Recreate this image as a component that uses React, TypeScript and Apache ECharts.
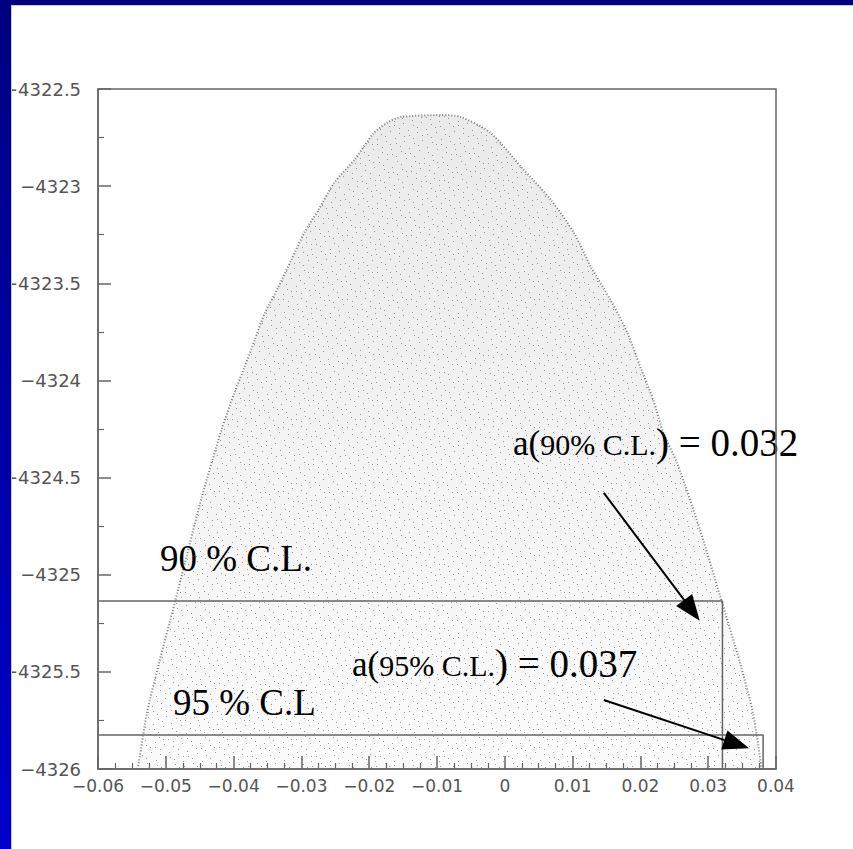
import React, { useEffect, useRef } from "react";
import * as echarts from "echarts";

// ---- data ----
const X_MIN = -0.06;
const X_MAX = 0.04;
const Y_MIN = -4326;
const Y_MAX = -4322.5;

// upper envelope of the scatter cloud (a, lnL)
const envelopeX = [
  -0.0542, -0.054, -0.0528, -0.051, -0.0487, -0.0472, -0.0447, -0.0418, -0.0399, -0.0384,
  -0.0369, -0.0354, -0.0334, -0.0315, -0.0296, -0.0275, -0.0252, -0.0222, -0.0193, -0.0172,
  -0.0153, -0.0094, -0.0065, -0.0021, 0.0024, 0.0068, 0.0102, 0.0127, 0.0156, 0.0181,
  0.02, 0.0219, 0.0234, 0.0254, 0.0288, 0.0318, 0.0347, 0.0366, 0.0379,
];
const envelopeY = [
  -4326, -4325.969, -4325.712, -4325.454, -4325.146, -4324.94, -4324.6, -4324.255, -4324.065, -4323.931,
  -4323.792, -4323.653, -4323.519, -4323.38, -4323.241, -4323.123, -4322.984, -4322.865, -4322.726, -4322.67,
  -4322.644, -4322.634, -4322.644, -4322.726, -4322.901, -4323.071, -4323.241, -4323.416, -4323.586, -4323.756,
  -4323.931, -4324.101, -4324.271, -4324.425, -4324.77, -4325.115, -4325.454, -4325.712, -4326,
];

// confidence-level boxes
const clNames = ["90 % C.L.", "95 % C.L"];
const clPct = ["90", "95"];
const clResult = ["0.032", "0.037"];
const clA = [0.0321, 0.0381];
const clLnL = [-4325.135, -4325.825];

// arrows (from -> to, data coords)
const arrowFrom = [
  [0.0146, -4324.579],
  [0.0146, -4325.645],
];
const arrowTo = [
  [0.0276, -4325.184],
  [0.0342, -4325.872],
];

const SERIF = '"Liberation Serif", "Times New Roman", serif';
const SANS = '"DejaVu Sans", sans-serif';

function makeDots(): HTMLCanvasElement {
  const c = document.createElement("canvas");
  c.width = 64;
  c.height = 64;
  const ctx = c.getContext("2d")!;
  ctx.fillStyle = "rgba(60,60,60,0.5)";
  for (let i = 0; i < 100; i++) {
    const px = Math.floor(((i * 0.7548776662 + 0.13) % 1) * 64);
    const py = Math.floor(((i * 0.569840291 + 0.41) % 1) * 64);
    ctx.fillRect(px, py, 1, 1);
  }
  return c;
}

const fmtX = (v: number) => {
  if (Math.abs(v) < 1e-9) return "0";
  return (v < 0 ? "\u2212" : "") + Math.abs(v).toFixed(2);
};
const fmtY = (v: number) => {
  const r = Math.round(Math.abs(v) * 10) / 10;
  return (v < 0 ? "\u2212" : "") + String(r);
};

const richStyles = {
  a: { fontFamily: SERIF, fontSize: 35, lineHeight: 40, fill: "#000", verticalAlign: "bottom", padding: [0, 0, 1, 0] },
  b: { fontFamily: SERIF, fontSize: 30, lineHeight: 40, fill: "#000", verticalAlign: "bottom", padding: [0, 0, 3, 0] },
  c: { fontFamily: SERIF, fontSize: 39, lineHeight: 40, fill: "#000", verticalAlign: "bottom" },
};

export default function App() {
  const ref = useRef<HTMLDivElement>(null);
  useEffect(() => {
    const chart = echarts.init(ref.current!, null, { renderer: "svg" });
    const dots = makeDots();
    const envelope = envelopeX.map((x, i) => [x, envelopeY[i]]);

    const boxSeries = clA.map((a, i) => ({
      type: "line",
      name: clNames[i],
      data: [
        [X_MIN, clLnL[i]],
        [a, clLnL[i]],
        [a, Y_MIN],
      ],
      symbol: "none",
      silent: true,
      z: 4,
      lineStyle: { color: "#666", width: 1.5 },
    }));

    const axisCommon = {
      axisLine: { show: true, onZero: false, lineStyle: { color: "#666", width: 1.5 } },
      axisTick: { show: true, inside: true, length: 13, lineStyle: { color: "#666", width: 1.5 } },
      minorTick: { show: true, length: 6, lineStyle: { color: "#666", width: 1.2 } },
      splitLine: { show: false },
      z: 3,
    };

    const option: any = {
      animation: false,
      backgroundColor: "#fff",
      grid: {
        left: 96,
        top: 89,
        width: 680,
        height: 680,
        show: true,
        borderColor: "#666",
        borderWidth: 1.5,
        backgroundColor: "transparent",
        z: 3,
      },
      xAxis: {
        type: "value",
        min: X_MIN,
        max: X_MAX,
        interval: 0.01,
        ...axisCommon,
        minorTick: { ...axisCommon.minorTick, splitNumber: 4 },
        axisLabel: { color: "#555", fontFamily: SANS, fontSize: 17, margin: 8, formatter: fmtX },
      },
      yAxis: {
        type: "value",
        min: Y_MIN,
        max: Y_MAX,
        interval: 0.5,
        ...axisCommon,
        minorTick: { ...axisCommon.minorTick, splitNumber: 2 },
        axisLabel: { color: "#555", fontFamily: SANS, fontSize: 18, margin: 17, formatter: fmtY },
      },
      series: [
        {
          type: "line",
          name: "cloud-base",
          data: envelope,
          smooth: 0.25,
          symbol: "none",
          silent: true,
          z: 1,
          lineStyle: { width: 0 },
          areaStyle: {
            origin: "start",
            opacity: 1,
            color: new echarts.graphic.LinearGradient(0, 0, 0, 1, [
              { offset: 0, color: "#eaeaea" },
              { offset: 0.5, color: "#f3f3f3" },
              { offset: 1, color: "#fbfbfb" },
            ]),
          },
        },
        {
          type: "line",
          name: "cloud",
          data: envelope,
          smooth: 0.25,
          symbol: "none",
          silent: true,
          z: 1,
          lineStyle: { color: "#7a7a7a", width: 2, type: [1, 2] },
          areaStyle: {
            origin: "start",
            opacity: 1,
            color: { image: dots, repeat: "repeat", imageWidth: 64, imageHeight: 64 },
          },
        },
        ...boxSeries,
        {
          type: "line",
          name: "arrows",
          data: [],
          silent: true,
          z: 5,
          markLine: {
            silent: true,
            symbol: ["none", "triangle"],
            symbolSize: [20, 26],
            label: { show: false },
            lineStyle: { color: "#000", width: 2, type: "solid" },
            emphasis: { disabled: true },
            data: arrowFrom.map((f, i) => [{ coord: f }, { coord: arrowTo[i] }]),
          },
        },
      ],
      graphic: [
        {
          type: "text",
          x: 160,
          y: 558,
          z: 2,
          silent: true,
          style: { text: clNames[0], fontFamily: SERIF, fontSize: 37, fill: "#000", verticalAlign: "middle" },
        },
        {
          type: "text",
          x: 173,
          y: 702,
          z: 2,
          silent: true,
          style: { text: clNames[1], fontFamily: SERIF, fontSize: 37, fill: "#000", verticalAlign: "middle" },
        },
        {
          type: "text",
          x: 513,
          y: 462,
          z: 2,
          silent: true,
          style: {
            text: `{a|a(}{b|${clPct[0]}% C.L.}{c|) = ${clResult[0]}}`,
            verticalAlign: "bottom",
            fill: "#000",
            rich: richStyles,
          },
        },
        {
          type: "text",
          x: 352,
          y: 683,
          z: 2,
          silent: true,
          style: {
            text: `{a|a(}{b|${clPct[1]}% C.L.}{c|) = ${clResult[1]}}`,
            verticalAlign: "bottom",
            fill: "#000",
            rich: richStyles,
          },
        },
        // slide frame
        {
          type: "rect",
          z: 10,
          silent: true,
          shape: { x: 0, y: 0, width: 853, height: 5 },
          style: { fill: "#000080" },
        },
        {
          type: "rect",
          z: 10,
          silent: true,
          shape: { x: 0, y: 0, width: 11, height: 849 },
          style: {
            fill: new echarts.graphic.LinearGradient(0, 0, 0, 1, [
              { offset: 0, color: "#000080" },
              { offset: 1, color: "#0000cc" },
            ]),
          },
        },
        {
          type: "line",
          z: 10,
          silent: true,
          shape: { x1: 11.5, y1: 5, x2: 11.5, y2: 849 },
          style: { stroke: "#c8c8d0", lineWidth: 1 },
        },
        {
          type: "line",
          z: 10,
          silent: true,
          shape: { x1: 11, y1: 5.5, x2: 853, y2: 5.5 },
          style: { stroke: "#c8c8d0", lineWidth: 1 },
        },
      ],
    };
    chart.setOption(option);
    return () => chart.dispose();
  }, []);
  return (
    <div
      ref={ref}
      style={{ position: "absolute", left: 0, top: 0, width: 853, height: 849, background: "#fff" }}
    />
  );
}
